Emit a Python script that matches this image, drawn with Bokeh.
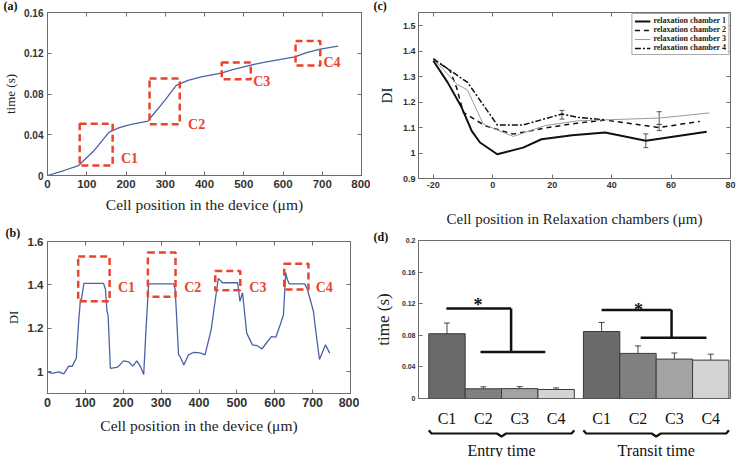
from bokeh.plotting import figure
from bokeh.layouts import row, column
from bokeh.models import (ColumnDataSource, FixedTicker, LinearAxis, Range1d,
                          Whisker, TeeHead, Legend, LegendItem)
from bokeh.core.properties import value
from bokeh.embed import file_html
from bokeh.resources import INLINE

# ---------------- data ----------------
constrictions = ["C1", "C2", "C3", "C4"]

# (a) cumulative time vs cell position
a_pos = [0, 42, 79, 119, 157, 183, 213, 256, 264, 299, 328, 358, 392, 442, 472,
         515, 558, 630, 660, 695, 740]
a_time = [0, 0.0049, 0.0098, 0.0246, 0.0426, 0.0469, 0.0502, 0.0534, 0.0574,
          0.0738, 0.0885, 0.0934, 0.0967, 0.1006, 0.104, 0.1082, 0.1115, 0.1164,
          0.1207, 0.124, 0.1269]
a_box_left = [82, 260, 444, 632]
a_box_right = [166, 337, 518, 695]
a_box_bottom = [0.0098, 0.0502, 0.0944, 0.108]
a_box_top = [0.0508, 0.0951, 0.1108, 0.132]
a_label_x = [187, 358, 524, 703]
a_label_y = [0.0164, 0.050, 0.0925, 0.1108]

# (b) deformation index vs cell position
b_pos = [0, 12, 30, 43, 56, 65, 76, 82, 87, 90, 96, 148, 153, 157, 160, 166, 183,
         188, 201, 214, 225, 236, 245, 254, 260, 267, 333, 337, 341, 346, 350, 360,
         372, 385, 397, 407, 416, 432, 445, 451, 462, 502, 508, 515, 526, 541, 554,
         566, 576, 591, 603, 616, 623, 629, 633, 638, 679, 686, 702, 708, 718, 734, 745]
b_di = [1.0, 0.993, 1.0, 0.99, 1.026, 1.025, 1.062, 1.225, 1.333, 1.336, 1.407,
        1.407, 1.38, 1.28, 1.26, 1.016, 1.02, 1.026, 1.05, 1.046, 1.026, 1.05, 1.025,
        0.988, 1.193, 1.405, 1.405, 1.38, 1.25, 1.078, 1.07, 1.031, 1.078, 1.089,
        1.088, 1.085, 1.078, 1.193, 1.356, 1.43, 1.41, 1.41, 1.325, 1.364, 1.178,
        1.124, 1.12, 1.105, 1.128, 1.162, 1.16, 1.225, 1.263, 1.457, 1.426, 1.405,
        1.405, 1.38, 1.28, 1.193, 1.057, 1.124, 1.086]
b_box_left = [81, 265, 443, 625]
b_box_right = [164, 338, 509, 689]
b_box_bottom = [1.325, 1.345, 1.376, 1.379]
b_box_top = [1.531, 1.549, 1.464, 1.498]
b_label_x = [186, 361, 533, 708]
b_label_y = [1.39, 1.39, 1.39, 1.39]

# (c) DI in relaxation chambers
c1_x = [-20, -15.2, -10.5, -7.1, -4.3, 1.5, 10.2, 16.4, 26.7, 37.8, 51.5, 72]
c1_y = [1.362, 1.277, 1.179, 1.087, 1.041, 0.995, 1.021, 1.054, 1.070, 1.080, 1.048, 1.083]
c2_x = [-20, -14.4, -12.2, -9.9, -2.6, 6.9, 17.5, 28.4, 37.8, 56, 69.7]
c2_y = [1.369, 1.323, 1.257, 1.159, 1.107, 1.074, 1.098, 1.117, 1.129, 1.10, 1.124]
c3_x = [-20, -12.2, -8.5, -3.2, 6.9, 17.5, 28.4, 37.8, 56, 72.9]
c3_y = [1.369, 1.271, 1.247, 1.113, 1.065, 1.107, 1.126, 1.13, 1.137, 1.157]
c4_x = [-20, -8.5, 1.5, 10.2, 23.3, 28.4, 37.8]
c4_y = [1.369, 1.277, 1.110, 1.110, 1.153, 1.14, 1.13]
c_err_x = [51.5, 56, 56, 23.3]
c_err_mid = [1.048, 1.10, 1.137, 1.15]
c_err_half = [0.027, 0.012, 0.025, 0.017]
c_names = ["relaxation chamber 1", "relaxation chamber 2",
           "relaxation chamber 3", "relaxation chamber 4"]

# (d) entry / transit time
entry_mean = [0.082, 0.0123, 0.0125, 0.0114]
entry_err = [0.0135, 0.0025, 0.0025, 0.002]
transit_mean = [0.0848, 0.0571, 0.0499, 0.0486]
transit_err = [0.0115, 0.0095, 0.0077, 0.0075]
group_names = ["Entry time", "Transit time"]

# ---------------- styling helpers ----------------
SANS = "Liberation Sans"
SERIF = "Liberation Serif"
BLUE = "#4b63a6"
RED = "#e9442c"
FRAME = "#6e6e6e"
TXT = "#333333"


def make_fig(w, h, xr, yr, bl, br, bt, bb, letter=None, letter_offset=-43,
             letter_standoff=0, letter_valign="top", **kw):
    p = figure(width=w, height=h, x_range=Range1d(*xr), y_range=Range1d(*yr),
               output_backend="svg", toolbar_location=None,
               min_border_left=bl, min_border_right=br,
               min_border_top=bt, min_border_bottom=bb, **kw)
    p.grid.visible = False
    p.outline_line_color = FRAME
    p.outline_line_width = 1
    if letter:
        p.title.text = letter
        p.title.align = "left"
        p.title.vertical_align = letter_valign
        p.title.offset = letter_offset
        p.title.standoff = letter_standoff
        p.title.text_font = SERIF
        p.title.text_font_style = "bold"
        p.title.text_font_size = "12px"
        p.title.text_color = "#111111"
    return p


def fmt(v):
    return f"{v:g}"


def style_axis(ax, ticks, size, standoff, label=None, label_size="15px", label_standoff=5):
    ax.ticker = FixedTicker(ticks=ticks)
    ax.major_label_overrides = {t: fmt(t) for t in ticks}
    ax.major_tick_in = 4
    ax.major_tick_out = 0
    ax.minor_tick_line_color = None
    ax.axis_line_color = FRAME
    ax.major_tick_line_color = FRAME
    ax.major_label_text_font = SANS
    ax.major_label_text_font_style = "bold"
    ax.major_label_text_font_size = size
    ax.major_label_text_color = TXT
    ax.major_label_standoff = standoff
    if label is not None:
        ax.axis_label = label
        ax.axis_label_text_font = SERIF
        ax.axis_label_text_font_style = "normal"
        ax.axis_label_text_font_size = label_size
        ax.axis_label_text_color = "#222222"
        ax.axis_label_standoff = label_standoff


def mirror(p, xticks, yticks):
    for ticks, side in ((xticks, "above"), (yticks, "right")):
        ax = LinearAxis(ticker=FixedTicker(ticks=ticks),
                        major_label_overrides={t: "" for t in ticks},
                        major_label_text_font_size="1px",
                        major_tick_in=4, major_tick_out=0, minor_tick_line_color=None,
                        major_label_standoff=0, axis_line_color=FRAME,
                        major_tick_line_color=FRAME)
        p.add_layout(ax, side)


# ---------------- (a) ----------------
pa = make_fig(370, 224, (0, 800), (0, 0.16), 46, 9, 12, 49, letter="(a)",
              letter_offset=-44, letter_standoff=-4)
xt_pos = [0, 100, 200, 300, 400, 500, 600, 700, 800]
yt_a = [0, 0.04, 0.08, 0.12, 0.16]
style_axis(pa.xaxis[0], xt_pos, "11.5px", 4, "Cell position in the device (\u03bcm)", "15.5px", 5)
style_axis(pa.yaxis[0], yt_a, "10px", 4, "time (s)", "13px", 3)
mirror(pa, xt_pos, yt_a)
pa.line(a_pos, a_time, line_color=BLUE, line_width=1.3)
pa.quad(left=a_box_left, right=a_box_right, bottom=a_box_bottom, top=a_box_top,
        fill_color=None, line_color=RED, line_width=2.5, line_dash="7 4")
pa.text(x=a_label_x, y=a_label_y, text=constrictions, text_font=value(SERIF),
        text_font_style="bold", text_font_size="14px", text_color=RED,
        text_baseline="middle", text_align="left")

# ---------------- (b) ----------------
pb = make_fig(359, 233, (0, 800), (0.9, 1.6), 46, 9, 17, 64, letter="(b)",
              letter_offset=-42, letter_standoff=0)
yt_b = [1, 1.2, 1.4, 1.6]
style_axis(pb.xaxis[0], xt_pos, "12.5px", 4, "Cell position in the device (\u03bcm)", "15.5px", 7)
style_axis(pb.yaxis[0], yt_b, "11.5px", 4, "DI", "12.5px", 4)
mirror(pb, xt_pos, yt_b)
pb.line(b_pos, b_di, line_color=BLUE, line_width=1.3)
pb.quad(left=b_box_left, right=b_box_right, bottom=b_box_bottom, top=b_box_top,
        fill_color=None, line_color=RED, line_width=2.5, line_dash="7 4")
pb.text(x=b_label_x, y=b_label_y, text=constrictions, text_font=value(SERIF),
        text_font_style="bold", text_font_size="14px", text_color=RED,
        text_baseline="middle", text_align="left")

# ---------------- (c) ----------------
pc = make_fig(368, 230, (-25, 80), (0.9, 1.551), 47, 8, 12, 52, letter="(c)",
              letter_offset=-45, letter_standoff=-4)
xt_c = [-20, 0, 20, 40, 60, 80]
yt_c = [0.9, 1.0, 1.1, 1.2, 1.3, 1.4, 1.5]
style_axis(pc.xaxis[0], xt_c, "9px", 3, "Cell position in Relaxation chambers (\u03bcm)", "15px", 20)
style_axis(pc.yaxis[0], yt_c, "9px", 3, "DI", "15px", 5)
mirror(pc, xt_c, yt_c)
r1 = pc.line(c1_x, c1_y, line_color="#111111", line_width=2)
r2 = pc.line(c2_x, c2_y, line_color="#111111", line_width=1.5, line_dash="5 4")
r3 = pc.line(c3_x, c3_y, line_color="#9a9a9a", line_width=1)
r4 = pc.line(c4_x, c4_y, line_color="#111111", line_width=1.5, line_dash="6 2 2 2")
err_src = ColumnDataSource(dict(
    x=c_err_x,
    lo=[m - e for m, e in zip(c_err_mid, c_err_half)],
    hi=[m + e for m, e in zip(c_err_mid, c_err_half)]))
pc.add_layout(Whisker(source=err_src, base="x", lower="lo", upper="hi",
                      line_color="#555555", line_width=1,
                      upper_head=TeeHead(size=5, line_color="#555555", line_width=1),
                      lower_head=TeeHead(size=5, line_color="#555555", line_width=1)))
legend = Legend(items=[LegendItem(label=n, renderers=[r]) for n, r in
                       zip(c_names, [r1, r2, r3, r4])],
                location="top_right")
legend.label_text_font = SERIF
legend.label_text_font_style = "bold"
legend.label_text_font_size = "8px"
legend.label_text_line_height = 0.9
legend.label_text_color = "#222222"
legend.label_height = 6
legend.glyph_height = 6
legend.glyph_width = 16
legend.label_standoff = 3
legend.spacing = 0
legend.padding = 2
legend.margin = 1
legend.border_line_color = "#555555"
pc.add_layout(legend)

# ---------------- (d) ----------------
bar_colors = ["#6a6a6a", "#808080", "#a3a3a3", "#d4d4d4"]
entry_x = [4 * i for i in range(len(constrictions))]
transit_x = [17 + 4 * i for i in range(len(constrictions))]
pdd = make_fig(368, 199, (-3.13, 31.17), (0, 0.2), 47, 8, 10, 31,
               letter="(d)", letter_offset=-45, letter_standoff=-6,
               letter_valign="bottom")
style_axis(pdd.yaxis[0], [0, 0.04, 0.08, 0.12, 0.16, 0.2], "7px", 3, "time (s)", "17px", 6)
xa = pdd.xaxis[0]
xa.ticker = FixedTicker(ticks=entry_x + transit_x)
xa.major_label_overrides = {t: c for t, c in zip(entry_x + transit_x, constrictions * 2)}
xa.major_tick_in = 0
xa.major_tick_out = 0
xa.minor_tick_line_color = None
xa.axis_line_color = None
xa.major_label_text_font = SERIF
xa.major_label_text_font_size = "16px"
xa.major_label_text_color = "#111111"
xa.major_label_standoff = 11

pdd.vbar(x=entry_x, top=entry_mean, width=4, fill_color=bar_colors,
         line_color="#3a3a3a", line_width=1)
pdd.vbar(x=transit_x, top=transit_mean, width=4, fill_color=bar_colors,
         line_color="#3a3a3a", line_width=1)
d_err = ColumnDataSource(dict(
    x=entry_x + transit_x,
    lo=[m - e for m, e in zip(entry_mean + transit_mean, entry_err + transit_err)],
    hi=[m + e for m, e in zip(entry_mean + transit_mean, entry_err + transit_err)]))
pdd.add_layout(Whisker(source=d_err, base="x", lower="lo", upper="hi",
                       line_color="#444444", line_width=1,
                       upper_head=TeeHead(size=6, line_color="#444444", line_width=1),
                       lower_head=TeeHead(size=6, line_color="#444444", line_width=1)))
# significance brackets
pdd.multi_line(xs=[[-0.07, 7.05], [7.05, 7.05], [3.69, 10.81],
                   [17.0, 24.69], [24.69, 24.69], [21.29, 28.53]],
               ys=[[0.114, 0.114], [0.114, 0.059], [0.059, 0.059],
                   [0.112, 0.112], [0.112, 0.077], [0.077, 0.077]],
               line_color="#111111", line_width=2.5)
pdd.text(x=[3.41, 21.05], y=[0.118, 0.112], text=["*", "*"], text_font=value(SERIF),
         text_font_style="bold", text_font_size="18px", text_color="#111111",
         text_align="center", text_baseline="middle")

# braces + group labels under (d)
pd2 = figure(width=368, height=28, x_range=pdd.x_range, y_range=Range1d(0, 28),
             output_backend="svg", toolbar_location=None, x_axis_type=None,
             y_axis_type=None, min_border_left=47, min_border_right=8,
             min_border_top=0, min_border_bottom=0)
pd2.grid.visible = False
pd2.outline_line_color = None
g_left = [entry_x[0] - 2, transit_x[0] - 2]
g_right = [entry_x[-1] + 2, transit_x[-1] + 2]
g_mid = [(l + r) / 2 for l, r in zip(g_left, g_right)]
brace_xs = [[l, l + 0.3, m - 0.5, m, m + 0.5, r - 0.3, r]
            for l, m, r in zip(g_left, g_mid, g_right)]
brace_ys = [[27.3, 24, 24, 21, 24, 24, 27.3] for _ in g_mid]
pd2.multi_line(xs=brace_xs, ys=brace_ys, line_color="#111111", line_width=2.2)
pd2.text(x=g_mid, y=[7.5, 7.5], text=group_names, text_font=value(SERIF),
         text_font_size="16px", text_color="#111111", text_align="center",
         text_baseline="alphabetic")

layout = row(column(pa, pb), column(pc, pdd, pd2))
open("out.html", "w").write(file_html(layout, INLINE))
